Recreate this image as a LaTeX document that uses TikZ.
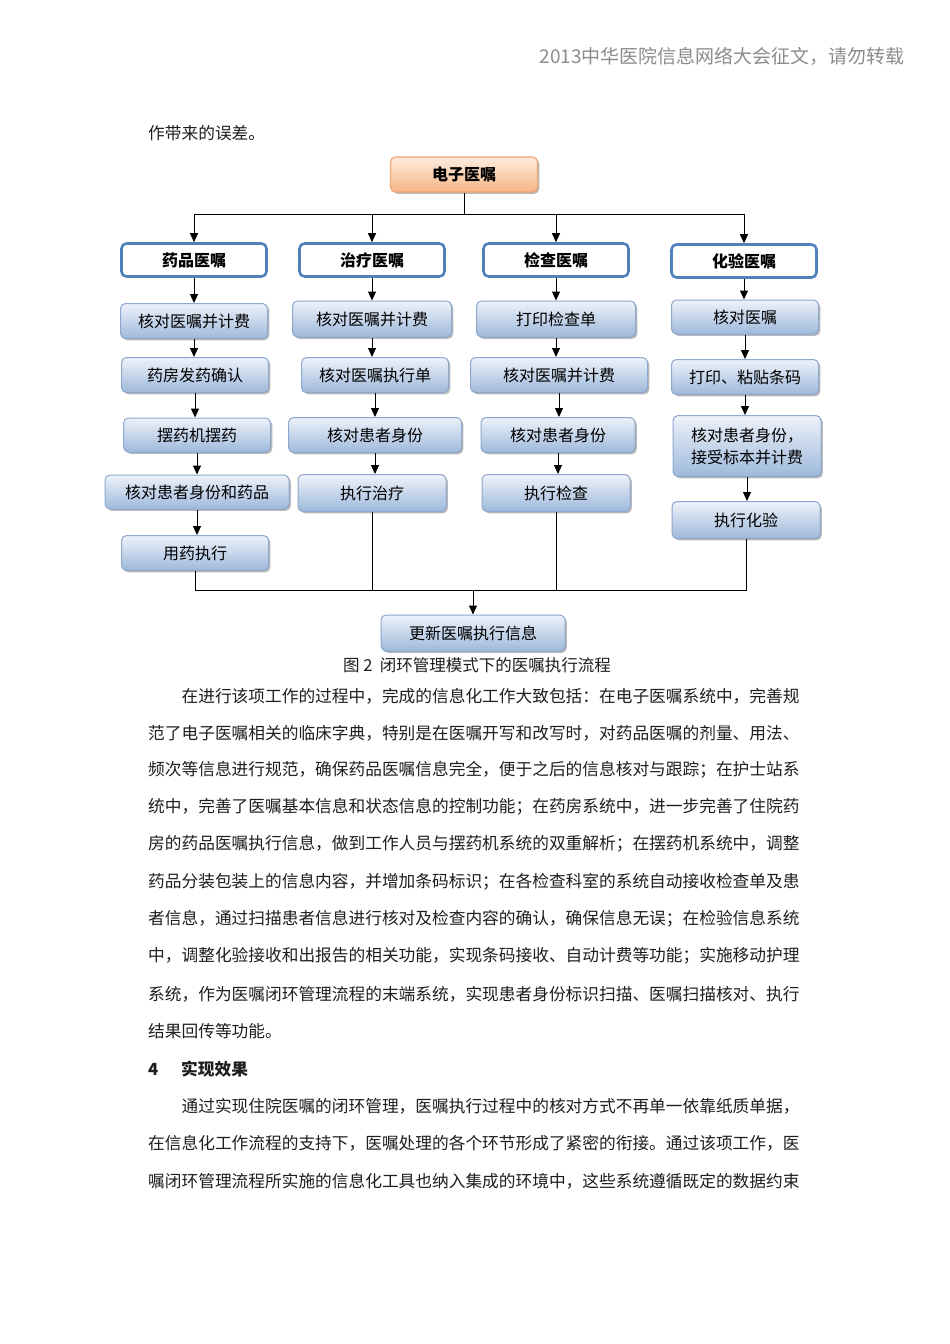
\documentclass[tikz,border=0pt]{standalone}
\usepackage{fontspec}
\setmainfont{Noto Sans CJK SC}
\usetikzlibrary{arrows.meta,shadows}
\XeTeXlinebreaklocale "zh"
\XeTeXlinebreakskip=0pt plus 2pt minus 0.3pt
\definecolor{hdrgray}{RGB}{140,140,140}
\definecolor{lvborder}{RGB}{79,129,189}
\definecolor{stepborder}{RGB}{140,168,206}
\definecolor{steptop}{RGB}{238,242,249}
\definecolor{stepbot}{RGB}{158,185,220}
\definecolor{orgtop}{RGB}{253,236,222}
\definecolor{orgbot}{RGB}{247,182,132}
\definecolor{orgborder}{RGB}{236,168,118}
\definecolor{bodyc}{RGB}{30,30,30}
\newcommand{\dgfont}{\fontsize{16}{19}\selectfont}
\newcommand{\bdfont}{\fontsize{16.7}{20}\selectfont}
\tikzset{
  boxshadow/.style={drop shadow={shadow xshift=1.8pt,shadow yshift=-1.8pt,fill=black,opacity=0.28}},
  rootbox/.style={draw=orgborder, line width=1.2pt, rounded corners=5pt, top color=orgtop, bottom color=orgbot, boxshadow, inner sep=0pt, minimum width=147pt, minimum height=35pt, font=\dgfont\bfseries},
  catbox/.style={draw=lvborder, line width=2.6pt, rounded corners=5pt, fill=white, inner sep=0pt, minimum width=145pt, minimum height=33pt, font=\dgfont\bfseries},
  stepbox/.style={draw=stepborder, line width=1pt, rounded corners=5pt, top color=steptop, bottom color=stepbot, boxshadow, inner sep=0pt, minimum width=147pt, minimum height=35pt, font=\dgfont},
  arr/.style={-{Triangle[length=9pt,width=8pt]}, line width=1pt},
  ln/.style={line width=1pt},
  bodyline/.style={anchor=west, inner sep=0pt, text=bodyc, font=\bdfont},
}
\newcommand{\jline}[2]{\makebox[#1][s]{#2}}
\begin{document}
\begin{tikzpicture}[x=1pt,y=-1pt]
\useasboundingbox (0,0) rectangle (950,1344);
\fill[white] (0,0) rectangle (950,1344);

% header
\node[anchor=east, inner sep=0pt, text=hdrgray, font=\fontsize{19}{22}\selectfont] (hdr) at (905,56) {2013中华医院信息网络大会征文，请勿转载};
\node[bodyline] (pre) at (148,133) {作带来的误差。};

% diagram
\node[rootbox] (root) at (464,174.5) {电子医嘱};
\coordinate (hub0) at (464,214);

\node[catbox] (c1) at (194,260) {药品医嘱};
\node[catbox] (c2) at (372,260) {治疗医嘱};
\node[catbox] (c3) at (556,260) {检查医嘱};
\node[catbox] (c4) at (744,261) {化验医嘱};

\node[stepbox] (a1) at (194,321) {核对医嘱并计费};
\node[stepbox] (a2) at (195,375) {药房发药确认};
\node[stepbox, minimum height=34pt] (a3) at (197,435) {摆药机摆药};
\node[stepbox, minimum width=184pt, minimum height=34pt] (a4) at (197,492) {核对患者身份和药品};
\node[stepbox] (a5) at (195,553) {用药执行};

\node[stepbox, minimum width=159pt, minimum height=36pt] (b1) at (372,319) {核对医嘱并计费};
\node[stepbox] (b2) at (375,375) {核对医嘱执行单};
\node[stepbox, minimum width=173pt] (b3) at (375,435) {核对患者身份};
\node[stepbox, minimum width=148pt, minimum height=37pt] (b4) at (372,493) {执行治疗};

\node[stepbox, minimum width=159pt, minimum height=36pt] (d1) at (556,319) {打印检查单};
\node[stepbox, minimum width=177pt] (d2) at (559,375) {核对医嘱并计费};
\node[stepbox, minimum width=154pt] (d3) at (558,435) {核对患者身份};
\node[stepbox, minimum width=148pt, minimum height=37pt] (d4) at (556,493) {执行检查};

\node[stepbox, minimum height=34pt] (e1) at (745,317) {核对医嘱};
\node[stepbox] (e2) at (745,377) {打印、粘贴条码};
\node[stepbox, minimum width=148pt, minimum height=61pt, align=left] (e3) at (747,446) {核对患者身份，\\[3pt]接受标本并计费};
\node[stepbox, minimum width=148pt, minimum height=37pt] (e4) at (746,520) {执行化验};

\node[stepbox, minimum width=184pt, minimum height=36pt] (fin) at (473,633) {更新医嘱执行信息};
\coordinate (bus) at (473,590);

% connectors top
\draw[ln] (root.south) -- (hub0);
\draw[ln] (c1.north |- hub0) -- (c4.north |- hub0);
\foreach \c in {c1,c2,c3,c4} \draw[arr] (\c.north |- hub0) -- (\c.north);
\draw[arr] (c1.south) -- (c1.south |- a1.north);
\draw[arr] (c2.south) -- (c2.south |- b1.north);
\draw[arr] (c3.south) -- (c3.south |- d1.north);
\draw[arr] (c4.south) -- (c4.south |- e1.north);
% columns
\draw[arr] (a1.south) -- (a1.south |- a2.north);
\draw[arr] (a2.south) -- (a2.south |- a3.north);
\draw[arr] (a3.south) -- (a3.south |- a4.north);
\draw[arr] (a4.south) -- (a4.south |- a5.north);
\draw[arr] (b1.south) -- (b1.south |- b2.north);
\draw[arr] (b2.south) -- (b2.south |- b3.north);
\draw[arr] (b3.south) -- (b3.south |- b4.north);
\draw[arr] (d1.south) -- (d1.south |- d2.north);
\draw[arr] (d2.south) -- (d2.south |- d3.north);
\draw[arr] (d3.south) -- (d3.south |- d4.north);
\draw[arr] (e1.south) -- (e1.south |- e2.north);
\draw[arr] (e2.south) -- (e2.south |- e3.north);
\draw[arr] (e3.south) -- (e3.south |- e4.north);
% bottom bus
\draw[ln] (a5.south) -- (a5.south |- bus) -- (e4.south |- bus) -- (e4.south);
\draw[ln] (b4.south) -- (b4.south |- bus);
\draw[ln] (d4.south) -- (d4.south |- bus);
\draw[arr] (bus) -- (fin.north);

\node[inner sep=0pt, text=bodyc, font=\fontsize{16.5}{19}\selectfont] (cap) at (477,665) {图\ 2\ \ 闭环管理模式下的医嘱执行流程};

% body text
\node[bodyline] (l1) at (181.4,696) {\jline{619.6pt}{在进行该项工作的过程中，完成的信息化工作大致包括：在电子医嘱系统中，完善规}};
\node[bodyline] (l2) at (148,733) {\jline{653pt}{范了电子医嘱相关的临床字典，特别是在医嘱开写和改写时，对药品医嘱的剂量、用法、}};
\node[bodyline] (l3) at (148,770) {\jline{653pt}{频次等信息进行规范，确保药品医嘱信息完全，便于之后的信息核对与跟踪；在护士站系}};
\node[bodyline] (l4) at (148,807) {\jline{653pt}{统中，完善了医嘱基本信息和状态信息的控制功能；在药房系统中，进一步完善了住院药}};
\node[bodyline] (l5) at (148,844) {\jline{653pt}{房的药品医嘱执行信息，做到工作人员与摆药机系统的双重解析；在摆药机系统中，调整}};
\node[bodyline] (l6) at (148,882) {\jline{653pt}{药品分装包装上的信息内容，并增加条码标识；在各检查科室的系统自动接收检查单及患}};
\node[bodyline] (l7) at (148,919) {\jline{653pt}{者信息，通过扫描患者信息进行核对及检查内容的确认，确保信息无误；在检验信息系统}};
\node[bodyline] (l8) at (148,956) {\jline{653pt}{中，调整化验接收和出报告的相关功能，实现条码接收、自动计费等功能；实施移动护理}};
\node[bodyline] (l9) at (148,994) {\jline{653pt}{系统，作为医嘱闭环管理流程的末端系统，实现患者身份标识扫描、医嘱扫描核对、执行}};
\node[bodyline] (l10) at (148,1031) {结果回传等功能。};
\node[bodyline, font=\bdfont\bfseries] (hnum) at (148,1069) {4};
\node[bodyline, font=\bdfont\bfseries] (htxt) at (181,1069) {实现效果};
\node[bodyline] (l11) at (181.4,1106) {\jline{619.6pt}{通过实现住院医嘱的闭环管理，医嘱执行过程中的核对方式不再单一依靠纸质单据，}};
\node[bodyline] (l12) at (148,1143) {\jline{653pt}{在信息化工作流程的支持下，医嘱处理的各个环节形成了紧密的衔接。通过该项工作，医}};
\node[bodyline] (l13) at (148,1181) {\jline{653pt}{嘱闭环管理流程所实施的信息化工具也纳入集成的环境中，这些系统遵循既定的数据约束}};
\end{tikzpicture}
\end{document}
